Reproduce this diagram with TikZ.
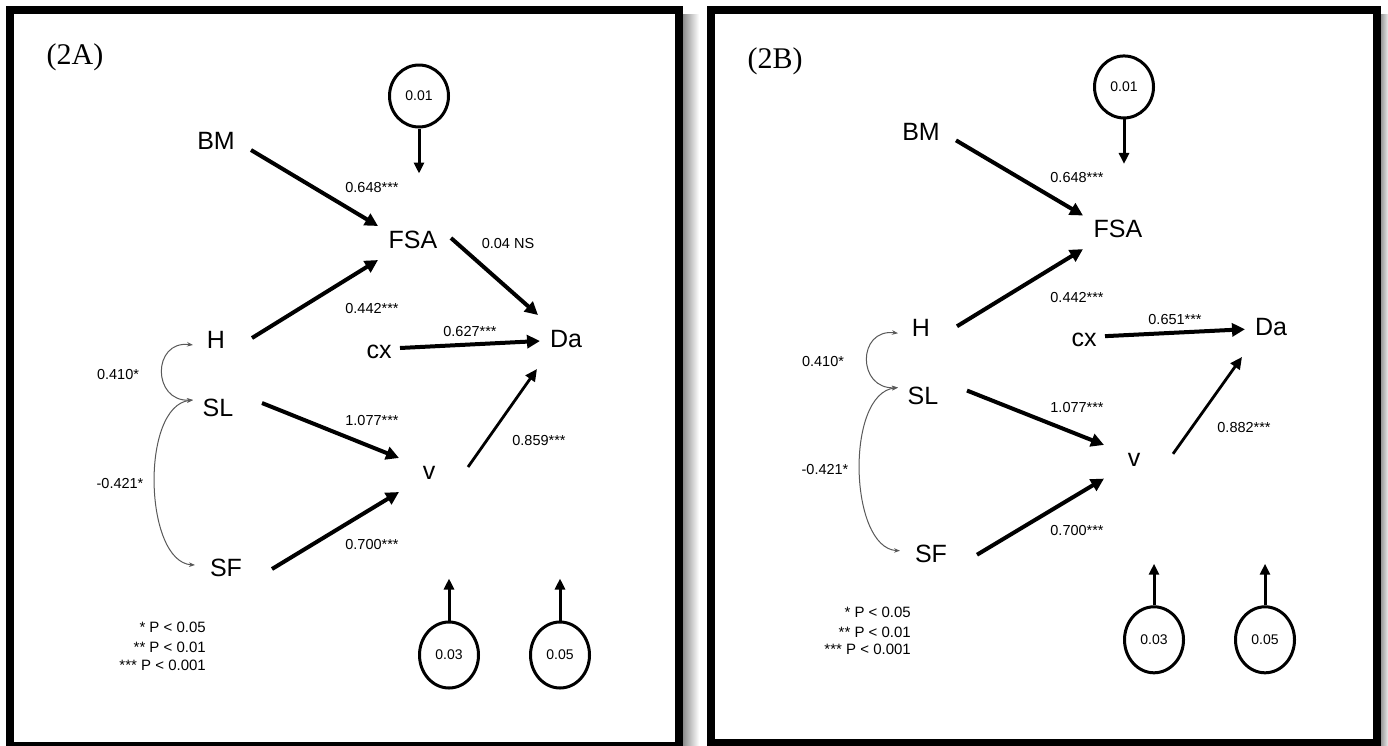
\documentclass[tikz,border=0pt]{standalone}
\usepackage{fontspec}
\setmainfont{Liberation Serif}
\setsansfont{Liberation Sans}
\usetikzlibrary{arrows.meta,shapes.geometric,calc}

\tikzset{
  var/.style={font=\sffamily\fontsize{25}{25}\selectfont, inner sep=0pt},
  coef/.style={font=\sffamily\fontsize{14.5}{14.5}\selectfont, inner sep=0pt},
  leg/.style={font=\sffamily\fontsize{15}{15}\selectfont, inner sep=0pt, anchor=east},
  errc/.style={draw, ellipse, line width=3pt, minimum width=59pt, minimum height=66pt, inner sep=0pt, font=\sffamily\fontsize{14}{14}\selectfont},
  pth/.style={line width=4pt, -{Triangle[length=13pt,width=13pt]}},
  thinpth/.style={line width=2.8pt, -{Triangle[length=12pt,width=11pt]}},
  errpth/.style={line width=3pt, -{Triangle[length=11pt,width=10pt]}},
  cov/.style={draw=black!65, line width=1pt, {Stealth[length=6pt,width=4.5pt]}-{Stealth[length=6pt,width=4.5pt]}},
  frm/.style={line width=8pt},
  panellab/.style={font=\fontsize{30}{30}\selectfont, inner sep=0pt}
}

\newcommand{\panelbody}[2]{%
  \node[var] (BM) at (216,141) {BM};
  \node[var] (FSA) at (413,240) {FSA};
  \node[var] (H) at (216,340) {H};
  \node[var] (cx) at (379,352) {cx};
  \node[var] (Da) at (566,339) {Da};
  \node[var] (SL) at (218,408) {SL};
  \node[var] (v) at (429,473) {v};
  \node[var] (SF) at (226,568) {SF};
  \node[errc, minimum height=62pt] (e1) at (419,96) {0.01};
  \node[errc] (e2) at (449,655) {0.03};
  \node[errc] (e3) at (560,655) {0.05};
  \draw[pth] ($(BM)+(35,9)$) -- ($(FSA)+(-35,-14)$);
  \draw[pth] ($(H)+(36,-2)$) -- ($(FSA)+(-35,20)$);
  \draw[pth] ($(cx)+(21,-4)$) -- ($(Da)+(-26,2)$);
  \draw[pth] ($(SL)+(44,-5)$) -- ($(v)+(-30,-15)$);
  \draw[pth] ($(SF)+(46,1)$) -- ($(v)+(-30,19)$);
  \draw[thinpth] ($(v)+(39,-6)$) -- ($(Da)+(-29,30)$);
  \draw[errpth] (e1.south) -- ++(0,45);
  \draw[errpth] (e2.north) -- ++(0,-42);
  \draw[errpth] (e3.north) -- ++(0,-42);
  \draw[cov] ($(H)+(-23,5)$) .. controls ($(H)+(-64,0)$) and ($(SL)+(-66,-6)$) .. ($(SL)+(-25,-8)$);
  \draw[cov] ($(SL)+(-25,-8)$) .. controls ($(SL)+(-78,-2)$) and ($(SF)+(-82,-6)$) .. ($(SF)+(-31,-3)$);
  \node[coef] (l648) at (372,188) {0.648***};
  \node[coef] (l442) at (372,309) {0.442***};
  \node[coef] (lcx) at (470,331) {#1};
  \node[coef] (l410) at (118,374) {0.410*};
  \node[coef] (l1077) at (372,420) {1.077***};
  \node[coef] (lv) at (539,440) {#2};
  \node[coef] (l421) at (120,483) {-0.421*};
  \node[coef] (l700) at (372,544) {0.700***};
  \node[leg] (g1) at (206,627) {* P < 0.05};
  \node[leg] (g2) at (206,647) {** P < 0.01};
  \node[leg] (g3) at (206,665) {*** P < 0.001};
}

\begin{document}
\begin{tikzpicture}[x=1pt,y=-1pt]
  \useasboundingbox (0,0) rectangle (1388,745);
  \fill[white] (0,0) rectangle (1388,745);
  % shadows
  \shade[left color=black!45, right color=white] (683,14) rectangle (699,748);
  \shade[left color=black!40, right color=black!8] (1381,14) rectangle (1388,748);
  % frames
  \draw[frm] (10,10) rectangle (679,746);
  \draw[frm] (711,10) rectangle (1377,743);
  % panel labels
  \node[panellab] (tA) at (75,57) {(2A)};
  \node[panellab] (tB) at (775,61) {(2B)};
  % panel A
  \begin{scope}[name prefix=a-]
    \panelbody{0.627***}{0.859***}
    \draw[pth] ($(FSA)+(38,-2)$) -- ($(Da)+(-28,-24)$);
    \node[coef] (lns) at (508,244) {0.04 NS};
  \end{scope}
  % panel B
  \begin{scope}[shift={(705,-8)}, yscale=0.989, name prefix=b-]
    \panelbody{0.651***}{0.882***}
  \end{scope}
\end{tikzpicture}
\end{document}
